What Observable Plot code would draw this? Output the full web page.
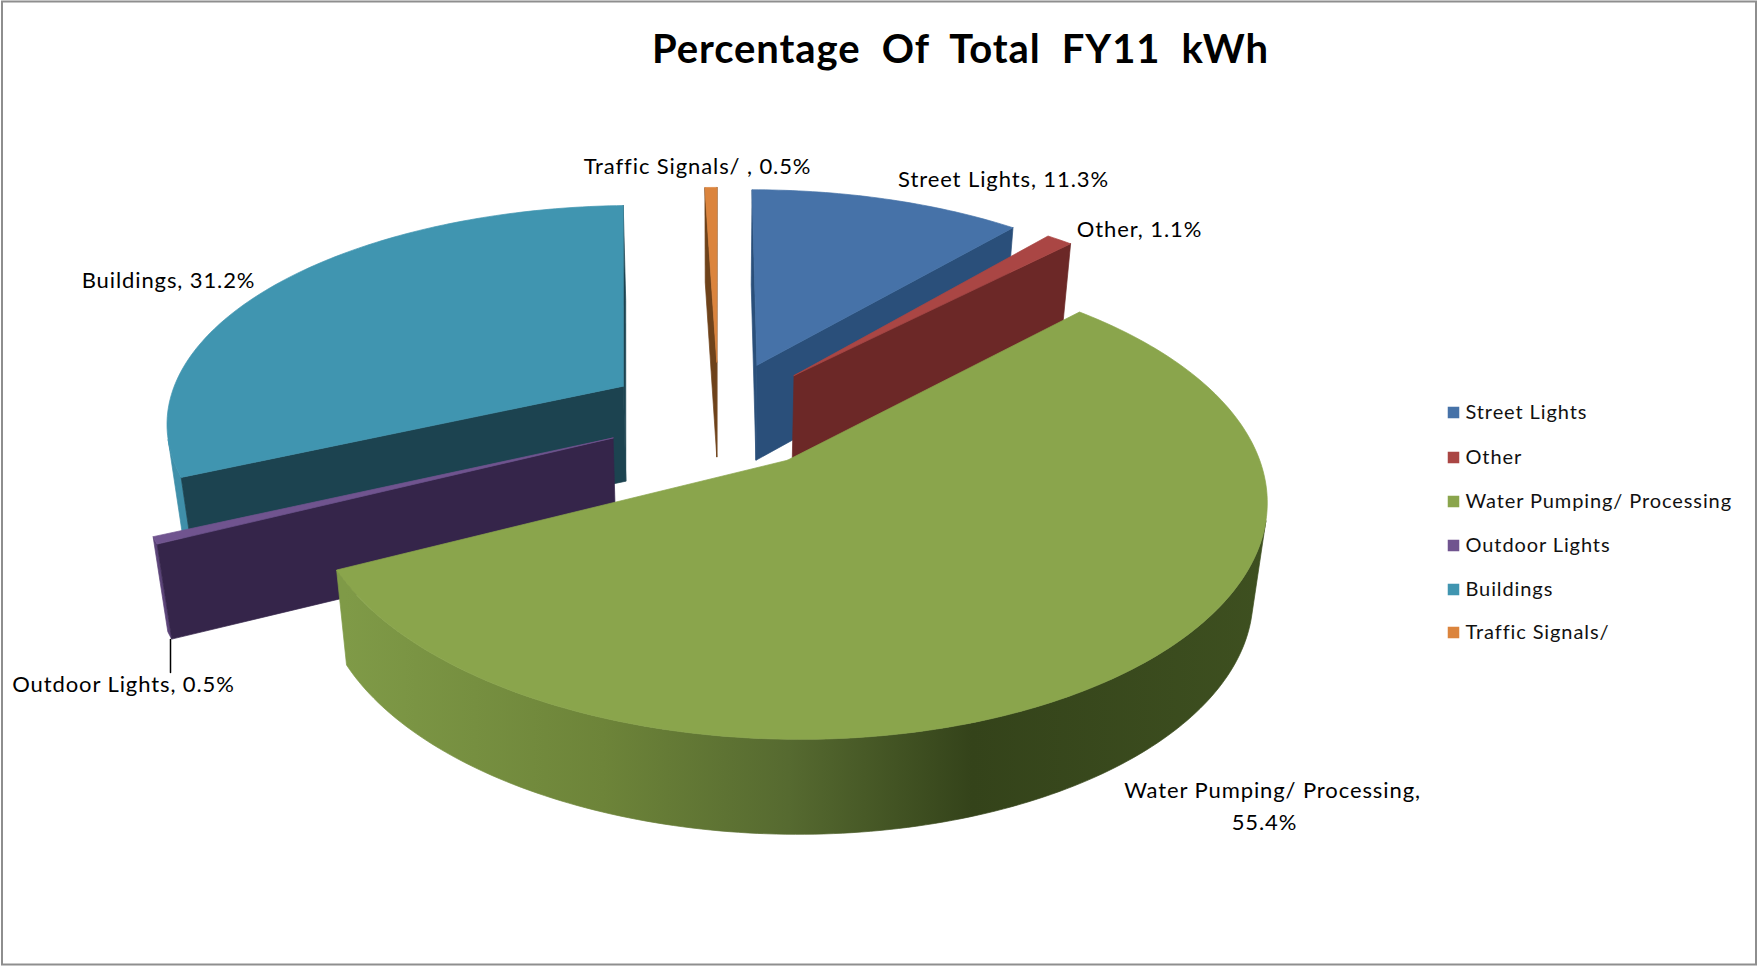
<!DOCTYPE html>
<html>
<head>
<meta charset="utf-8">
<script src="https://cdn.jsdelivr.net/npm/d3@7"></script>
<script src="https://cdn.jsdelivr.net/npm/@observablehq/plot@0.6"></script>
<style>
html,body{margin:0;padding:0;background:#fff;}
svg{display:block;}
</style>
</head>
<body>
<div id="chart"></div>
<script>
// ---- data ----
const categories = ["Street Lights", "Other", "Water Pumping/ Processing", "Outdoor Lights", "Buildings", "Traffic Signals/"];
const shares = [11.3, 1.1, 55.4, 0.5, 31.2, 0.5];
const titleText = "Percentage\u00a0\u00a0Of\u00a0\u00a0Total\u00a0\u00a0FY11\u00a0\u00a0kWh";

// ---- styles ----
const topColors  = ["#4672a8", "#aa4644", "#8aa54c", "#70548f", "#4095b0", "#db843d"];
const edgeColors = ["#2a4f7a", "#6c2827", "#55692f", "#35254a", "#1c4350", "#6e421a"];
const rimColors  = ["#2a4f7a", "#6c2827", "url(#waterRim)", "#5b4478", "#3f8fa9", "#c9772f"];
const legendColors = ["#4672a8", "#aa4644", "#8aa54c", "#70548f", "#4095b0", "#db843d"];
const waterStops = [[0, "#7f9a47"], [0.28, "#6d8439"], [0.48, "#566a30"], [0.68, "#34431a"], [1, "#3e5020"]];

// ---- layout ----
const W = 1758, H = 966;
const view = {cx: 718, cy: 414, A: 458, B: 218, kx: 0.15, ky: 0.16, explode: 0.25, depth: 95, taper: 0.026};
const font = "Lato, 'Open Sans', sans-serif";
const labelSpots = [
  {t: "Traffic Signals/ , 0.5%", x: 697, y: 166},
  {t: "Street Lights, 11.3%", x: 1003, y: 179},
  {t: "Other, 1.1%", x: 1139, y: 229},
  {t: "Buildings, 31.2%", x: 168, y: 280},
  {t: "Outdoor Lights, 0.5%", x: 123, y: 684},
  {t: "Water Pumping/ Processing,", x: 1272, y: 790},
  {t: "55.4%", x: 1264, y: 822}
];
const legendX = 1453, legendTextX = 1465, legendY = [412, 457, 501, 545, 589, 632];

function project(X, Y, z) {
  const u = view.A * X / (1 + view.kx * Y);
  return [view.cx + u * (1 - view.taper * z),
          view.cy - view.B * Y / (1 + view.ky * Y) + z * view.depth];
}
function area2(p) {
  let a = 0;
  p.forEach((q, i) => { const r = p[(i + 1) % p.length]; a += q[0] * r[1] - r[0] * q[1]; });
  return a;
}

const total = d3.sum(shares);
let acc = 0;
const slices = shares.map((v, i) => {
  const a0 = acc / total * 2 * Math.PI; acc += v;
  const a1 = acc / total * 2 * Math.PI;
  const m = (a0 + a1) / 2;
  return {i, a0, a1, ox: view.explode * Math.sin(m), oy: view.explode * Math.cos(m)};
});

function sliceMarks(s) {
  const n = Math.max(2, Math.ceil((s.a1 - s.a0) / (Math.PI / 180)));
  const rimAngle = d3.range(n + 1).map(j => s.a0 + (s.a1 - s.a0) * j / n);
  const P = (r, a, z) => project(s.ox + r * Math.sin(a), s.oy + r * Math.cos(a), z);
  const polys = [];
  // outer wall: only the run of angles that faces the viewer
  const facing = [];
  for (let j = 0; j < n; j++) {
    const q = [P(1, rimAngle[j], 0), P(1, rimAngle[j + 1], 0), P(1, rimAngle[j + 1], 1), P(1, rimAngle[j], 1)];
    if (area2(q) < 0) facing.push(j);
  }
  if (facing.length) {
    const angles = [...facing.map(j => rimAngle[j]), rimAngle[facing[facing.length - 1] + 1]];
    polys.push({q: [...angles.map(a => P(1, a, 0)), ...angles.slice().reverse().map(a => P(1, a, 1))], color: rimColors[s.i]});
  }
  // two cut walls
  const cut0 = [P(0, 0, 0), P(1, s.a0, 0), P(1, s.a0, 1), P(0, 0, 1)];
  if (area2(cut0) < 0) polys.push({q: cut0, color: edgeColors[s.i]});
  const cut1 = [P(1, s.a1, 0), P(0, 0, 0), P(0, 0, 1), P(1, s.a1, 1)];
  if (area2(cut1) < 0) polys.push({q: cut1, color: edgeColors[s.i]});
  // top face
  polys.push({q: [P(0, 0, 0), ...rimAngle.map(a => P(1, a, 0))], color: topColors[s.i]});
  return polys.map(({q, color}) => Plot.line([...q, q[0]], {
    x: d => d[0], y: d => d[1], fill: color, stroke: color, strokeWidth: 0.7, curve: "linear"
  }));
}

// back to front: Traffic, Street, Other, Buildings, Outdoor, Water
const paintOrder = [5, 0, 1, 4, 3, 2];

const chart = Plot.plot({
  width: W, height: H, margin: 0,
  x: {domain: [0, W], range: [0, W], axis: null},
  y: {domain: [0, H], range: [0, H], axis: null},
  style: {background: "#fff", letterSpacing: "0.9px"},
  marks: [
    Plot.rect([0], {x1: () => 2, x2: () => W - 2, y1: () => 1.5, y2: () => H - 1.5, fill: "none", stroke: "#8e8e8e", strokeWidth: 2}),
    ...paintOrder.flatMap(i => sliceMarks(slices[i])),
    Plot.line([[170, 639], [170, 672]], {x: d => d[0], y: d => d[1], stroke: "#000", strokeWidth: 1.5}),
    Plot.text([titleText], {x: () => 960, y: () => 50, text: d => d, fontFamily: font, fontWeight: 700, fontSize: 40, fill: "#000"}),
    Plot.text(labelSpots, {x: "x", y: "y", text: "t", fontFamily: font, fontSize: 22, fill: "#000"}),
    Plot.dot(categories, {x: () => legendX, y: (d, i) => legendY[i], symbol: "square", r: 6.5, fill: (d, i) => legendColors[i], stroke: null}),
    Plot.text(categories, {x: () => legendTextX, y: (d, i) => legendY[i], text: d => d, textAnchor: "start", fontFamily: font, fontSize: 20, fill: "#111"})
  ]
});
// gradient used by the water slice's outer wall
const grad = d3.select(chart).insert("defs", ":first-child").append("linearGradient")
  .attr("id", "waterRim").attr("gradientUnits", "userSpaceOnUse")
  .attr("x1", 345).attr("y1", 0).attr("x2", 1267).attr("y2", 0);
waterStops.forEach(([o, c]) => grad.append("stop").attr("offset", o).attr("stop-color", c));
document.getElementById("chart").append(chart);
</script>
</body>
</html>
